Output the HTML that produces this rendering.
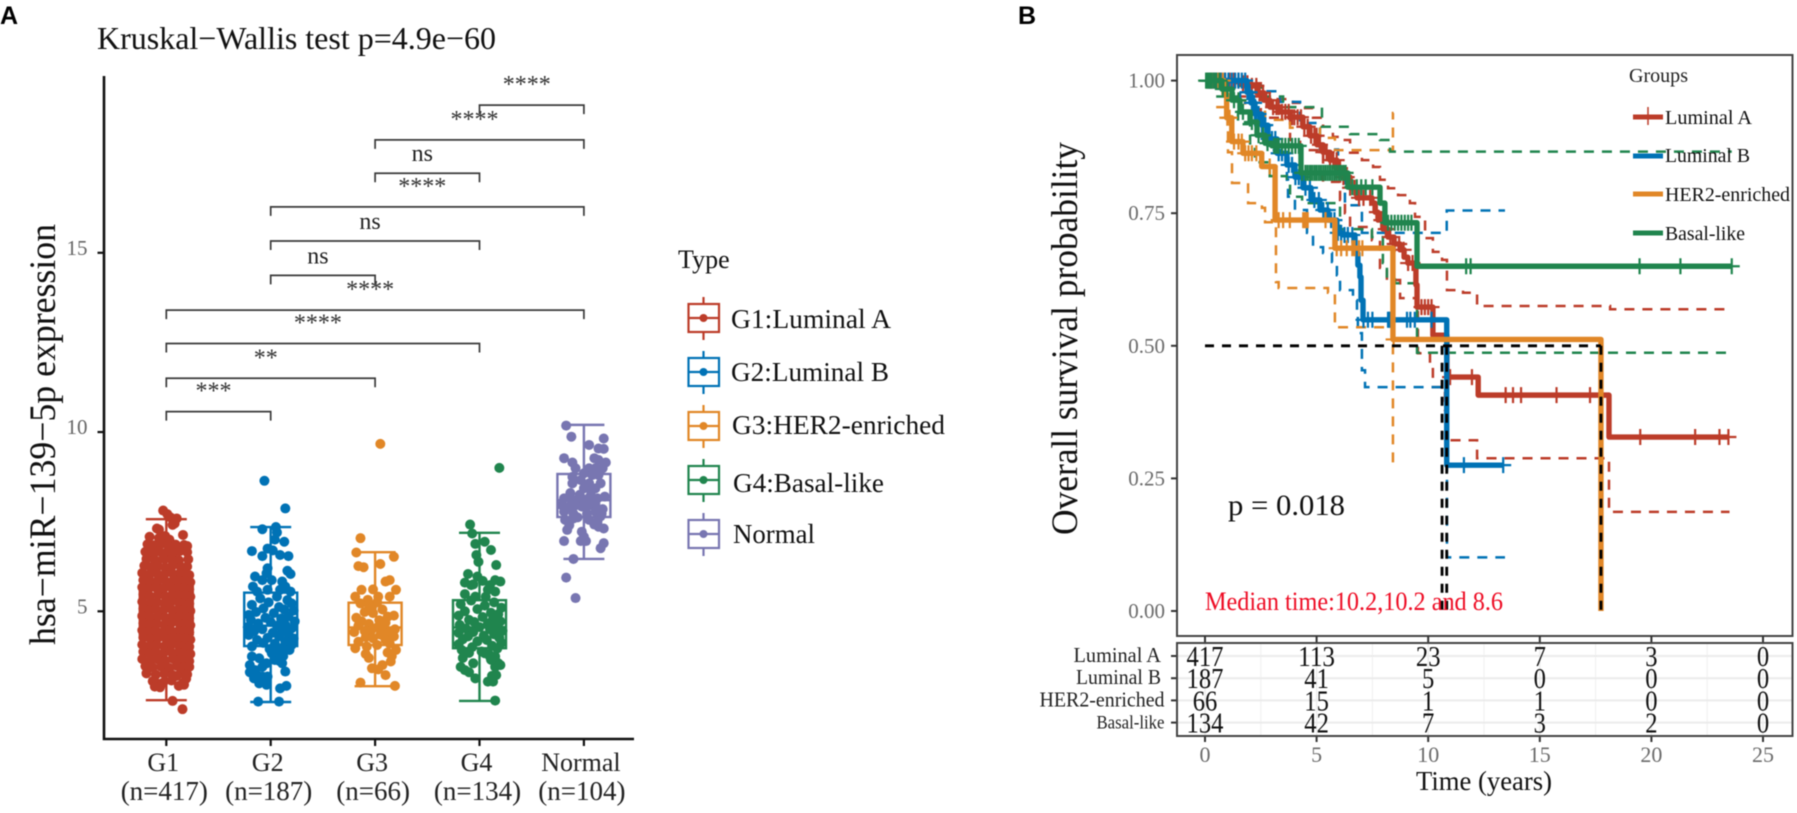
<!DOCTYPE html>
<html lang="en">
<head>
<meta charset="utf-8">
<title>miR-139-5p expression and overall survival</title>
<style>
html,body{margin:0;padding:0;background:#fff;}
svg{display:block;font-family:"Liberation Serif",serif;filter:blur(0.4px);}
</style>
</head>
<body>
<svg id="fig" xmlns="http://www.w3.org/2000/svg" width="1797" height="813" viewBox="0 0 1797 813">
<rect width="1797" height="813" fill="#fff"/>

<text x="0" y="24" font-family="'Liberation Sans',sans-serif" font-weight="700" font-size="25" fill="#000">A</text>
<text x="1018" y="24" font-family="'Liberation Sans',sans-serif" font-weight="700" font-size="25" fill="#000">B</text>

<text x="97" y="49" font-size="32" textLength="399" lengthAdjust="spacingAndGlyphs" fill="#111">Kruskal−Wallis test p=4.9e−60</text>
<text transform="translate(55,645) rotate(-90)" font-size="37" textLength="421" lengthAdjust="spacingAndGlyphs" fill="#111">hsa−miR−139−5p expression</text>

<g id="a-marks"></g>

<g>
<text x="678" y="268" font-size="26" fill="#111">Type</text>
<g fill="none" stroke="#BC3C29" stroke-width="2.2">
<path d="M703.5 297V304M703.5 332V340M688 318H719"/><rect x="688.5" y="304" width="30.5" height="28"/><circle cx="703.5" cy="318" r="4" fill="#BC3C29" stroke="none"/></g>
<text x="731" y="328" font-size="27" textLength="160" lengthAdjust="spacingAndGlyphs" fill="#111">G1:Luminal A</text>
<g fill="none" stroke="#0072B5" stroke-width="2.2">
<path d="M703.5 351V358M703.5 386V394M688 372H719"/><rect x="688.5" y="358" width="30.5" height="28"/><circle cx="703.5" cy="372" r="4" fill="#0072B5" stroke="none"/></g>
<text x="731" y="381" font-size="27" textLength="158" lengthAdjust="spacingAndGlyphs" fill="#111">G2:Luminal B</text>
<g fill="none" stroke="#E18727" stroke-width="2.2">
<path d="M703.5 405V412M703.5 440V448M688 426H719"/><rect x="688.5" y="412" width="30.5" height="28"/><circle cx="703.5" cy="426" r="4" fill="#E18727" stroke="none"/></g>
<text x="732" y="434" font-size="27" textLength="213" lengthAdjust="spacingAndGlyphs" fill="#111">G3:HER2-enriched</text>
<g fill="none" stroke="#20854E" stroke-width="2.2">
<path d="M703.5 459V466M703.5 494V502M688 480H719"/><rect x="688.5" y="466" width="30.5" height="28"/><circle cx="703.5" cy="480" r="4" fill="#20854E" stroke="none"/></g>
<text x="733" y="492" font-size="27" textLength="151" lengthAdjust="spacingAndGlyphs" fill="#111">G4:Basal-like</text>
<g fill="none" stroke="#7876B1" stroke-width="2.2">
<path d="M703.5 513V520M703.5 548V556M688 534H719"/><rect x="688.5" y="520" width="30.5" height="28"/><circle cx="703.5" cy="534" r="4" fill="#7876B1" stroke="none"/></g>
<text x="733" y="543" font-size="27" textLength="82" lengthAdjust="spacingAndGlyphs" fill="#111">Normal</text>
</g>

<rect x="1177" y="55" width="615.5" height="581" fill="#fff" stroke="#444" stroke-width="2"/>
<g id="b-marks"></g>
<text transform="translate(1077,535) rotate(-90)" font-size="37" textLength="393" lengthAdjust="spacingAndGlyphs" fill="#111">Overall survival probability</text>
<text x="1228" y="515" font-size="30" textLength="117" lengthAdjust="spacingAndGlyphs" fill="#111">p = 0.018</text>
<text x="1205" y="610" font-size="26" textLength="298" lengthAdjust="spacingAndGlyphs" fill="#ee0c24">Median time:10.2,10.2 and 8.6</text>

<g>
<text x="1629" y="82" font-size="20" textLength="59" lengthAdjust="spacingAndGlyphs" fill="#222">Groups</text>
<path d="M1633 117H1663M1648 107V125" stroke="#BC3C29" stroke-width="1.5" fill="none"/>
<path d="M1633 117H1663" stroke="#BC3C29" stroke-width="5" fill="none"/>
<text x="1665" y="124" font-size="20" textLength="87" lengthAdjust="spacingAndGlyphs" fill="#111">Luminal A</text>
<path d="M1633 156H1663" stroke="#0072B5" stroke-width="5" fill="none"/>
<text x="1665" y="162" font-size="20" textLength="85" lengthAdjust="spacingAndGlyphs" fill="#111">Luminal B</text>
<path d="M1633 194H1663" stroke="#E18727" stroke-width="5" fill="none"/>
<text x="1665" y="201" font-size="20" textLength="125" lengthAdjust="spacingAndGlyphs" fill="#111">HER2-enriched</text>
<path d="M1633 233H1663" stroke="#20854E" stroke-width="5" fill="none"/>
<text x="1665" y="240" font-size="20" textLength="80" lengthAdjust="spacingAndGlyphs" fill="#111">Basal-like</text>
</g>

<rect x="1177" y="643" width="615.5" height="93" fill="#fff" stroke="none"/>
<g id="table-marks"></g>
<rect x="1177" y="643" width="615.5" height="93" fill="none" stroke="#444" stroke-width="2"/>
<text x="1416" y="790" font-size="27" textLength="136" lengthAdjust="spacingAndGlyphs" fill="#111">Time (years)</text>
</svg>

<script>
/* ---------- Panel A data ---------- */
const groupNames = ['G1','G2','G3','G4','Normal'];
const groupCounts = ['(n=417)','(n=187)','(n=66)','(n=134)','(n=104)'];
const groupColors = ['#BC3C29','#0072B5','#E18727','#20854E','#7876B1'];
const exprTicks = [5,10,15];
const boxQ1 = [4.36,4.03,4.06,3.97,7.63];
const boxMedian = [5.0,4.6,4.55,4.55,8.1];
const boxQ3 = [5.73,5.52,5.24,5.31,8.83];
const whiskerLow = [2.52,2.47,2.91,2.5,6.46];
const whiskerHigh = [7.57,7.35,6.65,7.19,10.2];

const g1Values = [7.81,7.71,7.62,7.59,7.41,7.45,7.31,7.28,7.13,7.08,7.04,7.1,7.0,
6.87,6.84,6.88,6.83,6.86,6.85,6.82,
6.66,6.63,6.67,6.64,6.62,6.68,6.65,
6.46,6.43,6.47,6.44,6.42,6.45,
6.27,6.23,6.26,6.22,6.28,6.24,6.25,
6.07,6.03,6.06,6.02,6.08,6.04,6.05,6.01,
5.87,5.83,5.86,5.82,5.88,5.84,5.85,5.81,
5.67,5.63,5.66,5.62,5.68,5.64,5.65,5.61,
5.47,5.43,5.46,5.42,5.48,5.44,5.45,5.41,
5.27,5.23,5.26,5.22,5.28,5.24,5.25,5.21,
5.07,5.03,5.06,5.02,5.08,5.04,5.05,5.01,
4.87,4.83,4.86,4.82,4.88,4.84,4.85,4.81,
4.67,4.63,4.66,4.62,4.68,4.64,4.65,4.61,
4.47,4.43,4.46,4.42,4.48,4.44,4.45,4.41,
4.27,4.23,4.26,4.22,4.28,4.24,4.25,4.21,
4.07,4.03,4.06,4.02,4.08,4.04,4.05,4.01,
3.87,3.83,3.86,3.82,3.88,3.84,3.85,3.81,
3.67,3.63,3.66,3.62,3.68,3.64,3.65,3.61,
3.47,3.43,3.46,3.42,3.48,3.44,3.45,
3.27,3.23,3.26,3.22,3.28,3.24,
3.05,2.98,3.01,3.07,3.2,2.95,3.12,
2.9,2.88,2.92,3.0,
2.5,2.27];
const g1Jitter = [-.03,.01,.04,.1,.06,.08,-.09,-.07,.16,-.16,-.07,-.01,.03,
-.18,-.12,-.05,.02,.09,.17,.2,
-.2,-.14,-.07,0,.07,.13,.2,
-.19,-.11,-.03,.05,.12,.21,
-.21,-.15,-.08,-.01,.06,.14,.2,
-.23,-.16,-.09,-.02,.05,.12,.19,.22,
-.22,-.15,-.08,0,.07,.13,.18,.23,
-.23,-.17,-.1,-.03,.04,.11,.17,.22,
-.22,-.16,-.08,-.01,.06,.12,.19,.23,
-.23,-.15,-.09,-.02,.05,.12,.18,.22,
-.22,-.16,-.1,-.03,.04,.11,.17,.23,
-.23,-.15,-.08,-.01,.06,.12,.19,.22,
-.22,-.16,-.09,-.02,.05,.13,.18,.23,
-.23,-.17,-.1,-.03,.04,.11,.17,.22,
-.22,-.15,-.08,0,.07,.12,.19,.23,
-.23,-.16,-.09,-.02,.05,.12,.18,.22,
-.22,-.16,-.1,-.03,.04,.11,.17,.23,
-.23,-.15,-.08,-.01,.06,.13,.18,.22,
-.2,-.13,-.05,.03,.1,.17,.22,
-.19,-.1,-.02,.06,.14,.2,
-.13,-.08,-.03,.05,.1,.17,.19,
-.11,-.06,.12,.16,
.06,.155];

const g2Values = [8.64,7.87,7.29,7.35,7.2,6.94,7.0,6.68,6.54,6.75,6.7,6.57,6.54,6.2,6.06,6.13,6.04,5.97,5.69,5.87,5.87,5.83,5.69,5.6,5.55,5.6,5.41,5.55,
5.36,5.31,5.25,5.22,5.18,5.12,5.08,5.05,5.02,4.98,4.95,4.9,4.86,4.82,4.8,4.76,4.72,4.7,4.66,4.62,4.6,4.56,4.52,4.5,4.46,4.44,4.4,4.36,4.34,4.3,4.26,4.24,4.2,4.16,4.12,4.1,4.06,4.02,3.98,3.95,3.92,3.88,
3.5,3.36,3.13,2.99,2.95,3.22,3.18,3.18,3.32,3.55,3.64,3.55,3.69,3.74,3.83,2.85,2.92,2.48,2.48,3.45,3.3,3.62,3.75];
const g2Jitter = [-.06,.14,-.08,.05,.06,.13,.04,-.18,-.08,-.03,.02,.09,.17,-.03,-.04,.16,.19,-.15,-.17,-.08,.01,.11,.14,.09,-.13,-.03,.06,.19,
-.1,.16,-.02,.2,-.18,.08,-.07,.13,.22,-.14,.03,-.21,.17,-.05,.1,-.19,.23,0,-.12,.14,.06,-.22,.2,-.08,.11,-.16,.02,.17,-.21,.08,-.03,.22,-.13,.14,-.07,.04,.2,-.18,.11,-.01,.18,.06,
-.2,-.15,-.16,-.11,-.04,-.13,-.08,-.03,.14,.11,.04,-.04,-.11,-.18,.01,.09,.15,-.12,.08,-.08,-.2,.08,.12];

const g3Values = [9.67,7.04,6.64,6.52,6.32,6.26,6.23,5.87,5.83,5.6,5.6,5.61,5.41,5.32,5.41,5.41,5.22,5.25,5.18,5.05,4.98,4.95,4.88,4.82,4.75,4.72,4.68,4.65,4.6,4.55,4.5,4.52,4.46,4.42,4.4,4.35,4.3,4.28,4.25,4.2,4.15,4.1,4.06,4.02,3.97,3.92,3.85,3.81,3.6,3.5,3.41,3.38,3.22,3.01,2.92,3.75,3.7,4.85,4.45,5.1];
const g3Jitter = [.05,-.14,-.18,.18,.05,-.16,-.11,.14,.1,.2,-.13,-.02,-.19,-.07,.03,.14,-.14,.02,-.06,.07,-.1,-.02,.18,-.18,.04,-.13,.1,-.06,-.16,.02,.19,.08,-.04,-.2,.13,.05,.18,-.09,-.02,.1,-.16,.14,.02,-.08,-.19,.2,.12,-.09,.15,.07,-.03,.03,.1,-.14,.19,.16,-.06,.12,-.1,-.03];

const g4Values = [9.0,7.42,7.17,6.88,6.94,6.71,6.57,6.38,6.29,6.04,5.97,5.8,5.73,5.85,5.83,5.87,5.73,5.55,5.48,5.41,5.41,5.75,5.6,
5.3,5.25,5.2,5.16,5.1,5.06,5.0,4.96,4.92,4.88,4.84,4.8,4.76,4.72,4.7,4.66,4.62,4.58,4.56,4.52,4.5,4.46,4.42,4.4,4.36,4.32,4.3,4.26,4.22,4.2,4.16,4.12,4.08,4.04,4.0,3.96,3.92,3.88,3.84,3.8,
3.36,3.13,3.04,3.04,3.22,3.45,3.55,3.74,3.74,3.83,3.55,3.45,3.3,3.65,2.51,3.7,3.5,3.2];
const g4Jitter = [.19,-.09,-.07,-.04,.05,.11,-.03,-.01,.16,-.11,-.02,-.14,-.08,.03,.2,.15,.1,.15,-.14,-.04,.06,-.06,.08,
-.08,.14,-.18,.05,.21,-.02,-.14,.11,.18,-.2,.03,.13,-.1,.2,-.05,.08,-.19,.16,0,-.13,.1,.22,-.06,-.2,.14,.04,-.11,.19,-.16,.07,-.02,.21,-.2,.12,-.07,.17,-.17,.02,-.1,.09,
-.14,-.04,.08,.13,.16,.15,.18,.1,.15,.05,-.06,-.18,-.1,.11,.15,-.16,.2,.12];

const g5Values = [10.18,9.87,9.82,9.64,9.54,9.53,9.27,9.15,9.27,9.15,9.22,8.99,8.99,8.99,8.99,8.85,8.75,8.8,8.8,8.66,8.57,8.57,8.57,8.43,8.43,8.3,8.25,8.35,
8.15,8.15,8.12,8.12,8.2,8.15,8.2,7.96,7.92,7.96,7.92,7.96,8.0,7.85,7.78,7.72,7.72,7.78,7.65,7.72,
7.55,7.59,7.55,7.5,7.27,7.36,7.31,7.22,7.08,6.96,6.96,6.96,6.9,6.76,6.46,5.94,5.37,7.42,7.4,7.62];
const g5Jitter = [-.17,-.12,.19,.05,.14,.19,-.19,-.11,.1,.21,.14,-.08,.05,.11,.18,0,-.11,.08,.14,-.03,-.11,.05,.16,0,.11,-.13,-.04,.07,
-.19,-.13,-.06,0,.06,.13,.2,-.21,-.14,-.08,-.02,.05,.11,.18,-.19,-.1,.03,.11,.16,.17,
-.18,-.1,.05,.13,-.16,.14,.19,-.02,0,-.19,-.03,.02,.19,.16,-.1,-.17,-.08,.1,-.14,-.06];

const allValues = [g1Values,g2Values,g3Values,g4Values,g5Values];
const allJitter = [g1Jitter,g2Jitter,g3Jitter,g4Jitter,g5Jitter];

/* comparison brackets: start group, end group, level on the value axis, label */
const bracketFrom = [0,0,0,0,1,1,1,2,2,3];
const bracketTo = [1,2,3,4,2,3,4,3,4,4];
const bracketLevel = [10.57,11.5,12.47,13.4,14.37,15.33,16.28,17.22,18.15,19.12];
const bracketLabels = ['***','**','****','****','ns','ns','****','ns','****','****'];

/* ---------- Panel B data ---------- */
const survTicks = [1,0.75,0.5,0.25,0];
const survTickLabels = ['1.00','0.75','0.50','0.25','0.00'];
const timeTicks = [0,5,10,15,20,25];
const strataNames = ['Luminal A','Luminal B','HER2-enriched','Basal-like'];
const strataColors = ['#BC3C29','#0072B5','#E18727','#20854E'];

const lumATime = [0,1.57,1.93,2.33,2.64,2.91,3.36,3.81,4.39,4.7,5.02,5.29,5.6,5.91,6.18,6.5,6.81,7.48,7.62,7.75,7.97,8.2,8.47,8.74,8.92,9.09,9.41,9.45,9.5,10.21,10.84,12.24,18.1,23.5];
const lumASurv = [1,.995,.99,.977,.963,.95,.941,.931,.913,.896,.879,.865,.85,.835,.818,.798,.779,.769,.752,.737,.72,.705,.692,.681,.667,.656,.652,.615,.573,.52,.441,.407,.328,.328];
const lumAUpperTime = [0,1.5,2.5,3.14,3.94,4.48,4.84,5.29,5.73,6.18,6.5,7.03,7.53,7.84,8.2,8.65,9.18,9.41,9.86,10.21,10.62,10.84,11.56,12.19,18.15,23.5];
const lumAUpperSurv = [1,.995,.98,.965,.958,.948,.93,.913,.894,.888,.864,.85,.837,.813,.797,.784,.769,.743,.703,.677,.662,.605,.6,.575,.569,.569];
const lumALowerTime = [.5,1.5,2.5,3.81,4.26,5.29,6.05,6.27,6.5,7.48,7.84,8.15,8.74,9.54,10.08,10.21,10.75,10.84,12.19,18.1,23.5];
const lumALowerSurv = [1,.97,.93,.888,.869,.809,.775,.75,.724,.699,.647,.624,.59,.486,.46,.422,.379,.322,.288,.187,.187];
const lumACensor = [.1,.2,.3,.4,.5,.7,.9,1.1,1.3,1.5,1.7,1.9,2.1,2.3,2.45,2.6,2.75,2.9,3.05,3.2,3.3,3.45,3.6,3.75,3.9,4.0,4.15,4.3,4.45,4.6,4.75,4.9,5.0,5.15,5.3,5.45,5.6,5.75,5.9,6.05,6.2,6.35,6.5,6.7,6.9,7.1,7.4,7.7,7.9,8.1,8.3,8.5,8.7,8.9,9.1,9.3,9.7,9.85,10.0,10.15,10.98,11.96,13.47,13.8,14.16,15.75,17.25,19.5,21.96,23.05,23.45];

const lumBTime = [0,1.88,2.06,2.24,2.55,2.82,3.23,3.67,4.03,4.39,4.75,5.15,5.51,5.91,6.14,6.72,6.85,6.94,6.99,7.08,10.83,13.4];
const lumBSurv = [1,.978,.958,.937,.916,.89,.863,.841,.818,.798,.775,.756,.737,.713,.709,.675,.652,.63,.586,.549,.275,.275];
const lumBUpperTime = [0,2.02,2.69,3.36,4.26,5.15,5.96,6.27,7.03,10.83,13.44];
const lumBUpperSurv = [1,.99,.98,.96,.92,.87,.82,.765,.713,.755,.755];
const lumBLowerTime = [.5,1.57,2.24,2.91,3.67,3.72,4.03,4.57,4.84,5.29,5.69,5.91,6.05,6.63,6.81,6.85,7.03,7.17,10.84,13.44];
const lumBLowerSurv = [1,.963,.916,.869,.813,.781,.756,.713,.686,.675,.658,.633,.605,.586,.567,.524,.454,.422,.101,.101];
const lumBCensor = [.2,.3,.4,.5,.6,.75,.9,1.05,1.2,1.35,1.5,1.65,1.8,1.9,2.0,2.1,2.2,2.3,2.4,2.55,2.7,2.85,3.0,3.15,3.3,3.45,3.6,3.75,3.9,4.05,4.2,4.35,4.5,4.7,4.9,5.1,5.3,5.5,5.65,5.8,5.95,6.1,6.25,6.4,6.6,7.1,7.3,7.5,8.2,8.25,8.3,8.35,8.4,9.05,9.2,9.4,10.15,11.6,13.36];

const her2Time = [0,.85,.97,1.2,1.7,2.54,3.14,5.82,8.42,17.74];
const her2Surv = [1,.975,.93,.885,.863,.838,.737,.684,.512,0];
const her2UpperTime = [0,.76,1.03,1.79,2.69,3.81,5.15,5.82,8.42,8.45];
const her2UpperSurv = [1,1,.963,.941,.926,.911,.892,.869,.939,.939];
const her2LowerTime = [.5,1.03,1.21,1.93,2.55,2.69,3.18,3.3,5.51,5.82,8.42,8.5];
const her2LowerSurv = [.95,.865,.807,.769,.76,.733,.62,.609,.6,.535,.279,.279];
const her2Censor = [.3,.6,.8,1.0,1.1,1.3,1.5,1.65,1.8,1.95,2.1,2.3,2.9,3.3,3.5,3.8,4.4,4.45,4.5,4.55,4.6,5.4,5.9,6.1,6.35,6.6,6.7,6.9,7.05,8.45];

const basalTime = [0,.76,1.21,1.57,2.02,2.33,2.69,3.0,4.3,6.4,7.84,8.06,9.5,23.6];
const basalSurv = [1,.984,.963,.941,.922,.897,.882,.877,.826,.799,.769,.732,.65,.65];
const basalUpperTime = [0,1.5,2.5,3.5,5.24,6.5,7.84,8.29,23.6];
const basalUpperSurv = [1,.99,.97,.95,.913,.899,.888,.866,.866];
const basalLowerTime = [.5,1.48,2.02,2.24,2.9,3.67,3.81,4.35,6.05,7.48,7.97,8.15,8.51,9.5,23.6];
const basalLowerSurv = [.97,.918,.871,.846,.82,.813,.781,.769,.72,.705,.656,.625,.618,.487,.487];
const basalCensor = [.05,.1,.15,.2,.25,.3,.4,.5,.65,.8,1.0,1.3,1.5,1.7,2.1,2.4,2.6,2.8,3.1,3.2,3.3,3.45,3.6,3.75,3.9,4.05,4.2,4.35,4.5,4.6,4.7,4.8,4.9,5.0,5.1,5.2,5.3,5.4,5.5,5.6,5.7,5.8,5.9,6.0,6.1,6.2,6.3,6.6,6.8,7.0,7.2,7.5,8.2,8.35,8.5,8.65,8.8,8.95,9.1,9.25,11.7,11.9,19.47,21.3,23.6];

const curveTimes = [lumATime,lumBTime,her2Time,basalTime];
const curveSurv = [lumASurv,lumBSurv,her2Surv,basalSurv];
const upperTimes = [lumAUpperTime,lumBUpperTime,her2UpperTime,basalUpperTime];
const upperSurv = [lumAUpperSurv,lumBUpperSurv,her2UpperSurv,basalUpperSurv];
const lowerTimes = [lumALowerTime,lumBLowerTime,her2LowerTime,basalLowerTime];
const lowerSurv = [lumALowerSurv,lumBLowerSurv,her2LowerSurv,basalLowerSurv];
const censorTimes = [lumACensor,lumBCensor,her2Censor,basalCensor];
const medianTimes = [10.62,10.83,17.74];
const medianLevel = 0.5;

const riskLumA = [417,113,23,7,3,0];
const riskLumB = [187,41,5,0,0,0];
const riskHer2 = [66,15,1,1,0,0];
const riskBasal = [134,42,7,3,2,0];
const riskRows = [riskLumA,riskLumB,riskHer2,riskBasal];

/* ---------- helpers and axis functions ---------- */
const NS = 'http://www.w3.org/2000/svg';
function mk(tag, attrs, parent, text) {
  const el = document.createElementNS(NS, tag);
  for (const k in attrs) el.setAttribute(k, attrs[k]);
  if (text !== undefined) el.textContent = text;
  parent.appendChild(el);
  return el;
}
const catX = i => 166.3 + i * 104.4;
const exprY = v => 611.3 - (v - 5) * 35.85;
const timeX = t => 1205 + t * 22.32;
const survY = s => 611 - s * 530.4;
const bracketDrop = 9;

/* ---------- Panel A ---------- */
const A = document.getElementById('a-marks');

let el = mk('path', {d:'M104 76V739H634', fill:'none', stroke:'#111', 'stroke-width':2.6}, A);



exprTicks.forEach(v => {
  const tick = mk('path', {d:'M97.5 '+exprY(v)+'H104', stroke:'#111', 'stroke-width':2.2}, A);
  
  
  const lab = mk('text', {x:87.5, y:exprY(v)+2, 'text-anchor':'end', 'font-size':21, fill:'#666'}, A, String(v));
  
  
});

groupNames.forEach((name, i) => {
  const x = catX(i);
  const tick = mk('path', {d:'M'+x+' 739V746', stroke:'#111', 'stroke-width':2.2}, A);
  
  
  const lab = mk('text', {x:x-3, y:771, 'text-anchor':'middle', 'font-size':26, fill:'#222'}, A, name);
  
  
  const cnt = mk('text', {x:x-2, y:800, 'text-anchor':'middle', 'font-size':27, fill:'#222'}, A, groupCounts[i]);
  
  

  const col = groupColors[i];
  const box = mk('g', {fill:'none', stroke:col, 'stroke-width':2.4}, A);
  
  
  mk('rect', {x:x-26.5, y:exprY(boxQ3[i]), width:53, height:exprY(boxQ1[i])-exprY(boxQ3[i])}, box);
  mk('path', {d:'M'+(x-26.5)+' '+exprY(boxMedian[i])+'h53'}, box);
  mk('path', {d:'M'+x+' '+exprY(boxQ3[i])+'V'+exprY(whiskerHigh[i])+'M'+(x-20.5)+' '+exprY(whiskerHigh[i])+'h41'}, box);
  mk('path', {d:'M'+x+' '+exprY(boxQ1[i])+'V'+exprY(whiskerLow[i])+'M'+(x-20.5)+' '+exprY(whiskerLow[i])+'h41'}, box);

  allValues[i].forEach((v, k) => {
    const dot = mk('circle', {cx:x + allJitter[i][k]*104.4, cy:exprY(v), r:5, fill:col}, A);
    
    
  });
});

bracketFrom.forEach((from, i) => {
  const x1 = catX(from), x2 = catX(bracketTo[i]), y = exprY(bracketLevel[i]);
  const br = mk('path', {d:'M'+x1+' '+(y+bracketDrop)+'V'+y+'H'+x2+'V'+(y+bracketDrop), fill:'none', stroke:'#3a3a3a', 'stroke-width':1.7}, A);
  
  
  const lbl = bracketLabels[i];
  const tx = (x1 + x2) / 2 - 5;
  const isNs = lbl === 'ns';
  const ty = isNs ? y - 12 : y - 13;
  const t = mk('text', {x:tx, y:ty, 'text-anchor':'middle', 'font-size':24, fill:isNs ? '#222' : '#333'}, A, lbl);
  
  
});

/* ---------- Panel B ---------- */
const B = document.getElementById('b-marks');

function stepPath(ts, ss) {
  let d = 'M' + timeX(ts[0]) + ' ' + survY(ss[0]);
  for (let i = 1; i < ts.length; i++) {
    d += 'H' + timeX(ts[i]) + 'V' + survY(ss[i]);
  }
  return d;
}
function survAt(ts, ss, t) {
  let s = ss[0];
  for (let i = 0; i < ts.length; i++) {
    if (ts[i] <= t) s = ss[i]; else break;
  }
  return s;
}

survTicks.forEach((s, i) => {
  const tick = mk('path', {d:'M1171 '+survY(s)+'H1177', stroke:'#333', 'stroke-width':2}, B);
  
  
  const lab = mk('text', {x:1165, y:survY(s)+7, 'text-anchor':'end', 'font-size':21, fill:'#6b6b6b'}, B, survTickLabels[i]);
  
  
});

strataNames.forEach((name, i) => {
  const key = name.toLowerCase();
  const up = mk('path', {d:stepPath(upperTimes[i], upperSurv[i]), fill:'none', stroke:strataColors[i], 'stroke-width':2.5, 'stroke-dasharray':'10 8'}, B);
  
  
  const lo = mk('path', {d:stepPath(lowerTimes[i], lowerSurv[i]), fill:'none', stroke:strataColors[i], 'stroke-width':2.5, 'stroke-dasharray':'10 8'}, B);
  
  
});

strataNames.forEach((name, i) => {
  const key = name.toLowerCase();
  const line = mk('path', {d:stepPath(curveTimes[i], curveSurv[i]), fill:'none', stroke:strataColors[i], 'stroke-width':5.4, 'stroke-linejoin':'round'}, B);
  
  
  censorTimes[i].forEach(t => {
    const x = timeX(t), y = survY(survAt(curveTimes[i], curveSurv[i], t));
    const c = mk('path', {d:'M'+x+' '+(y-8)+'v16M'+(x-8)+' '+y+'h16', fill:'none', stroke:strataColors[i], 'stroke-width':2.2}, B);
    
    
  });
});

const medLine = mk('path', {d:'M'+timeX(0)+' '+survY(medianLevel)+'H'+timeX(medianTimes[2]), stroke:'#000', 'stroke-width':2.8, 'stroke-dasharray':'9 8', fill:'none'}, B);


medianTimes.forEach(t => {
  const v = mk('path', {d:'M'+timeX(t)+' '+survY(medianLevel)+'V'+survY(0), stroke:'#000', 'stroke-width':2.8, 'stroke-dasharray':'9 8', fill:'none'}, B);
  
  
});

/* top ticks below the survival plot and x-axis labels */
const T = document.getElementById('table-marks');
timeTicks.forEach(t => {
  const x = timeX(t);
  const top = mk('path', {d:'M'+x+' 636V643', stroke:'#333', 'stroke-width':2}, T);
  
  
  const bot = mk('path', {d:'M'+x+' 736V742', stroke:'#333', 'stroke-width':2}, T);
  
  
  const lab = mk('text', {x:x, y:762, 'text-anchor':'middle', 'font-size':22, fill:'#6b6b6b'}, T, String(t));
  
  
  const grid = mk('path', {d:'M'+x+' 643V736', stroke:'#eeeeee', 'stroke-width':1.6}, T);
  
  
  if (t < 25) {
    const minor = mk('path', {d:'M'+timeX(t+2.5)+' 643V736', stroke:'#f2f2f2', 'stroke-width':1.2}, T);
    
    
  }
});

const rowY = r => 656 + r * 22.2;
const rowLabelWidths = [87.5, 85, 125, 68];
const rowLabelEnds = [1161, 1161, 1164.5, 1164.5];
riskRows.forEach((row, r) => {
  const y = rowY(r);
  const grid = mk('path', {d:'M1177 '+y+'H1792', stroke:'#ebebeb', 'stroke-width':2}, T);
  
  
  const tick = mk('path', {d:'M1171 '+y+'H1177', stroke:'#333', 'stroke-width':2}, T);
  
  
  const lab = mk('text', {x:rowLabelEnds[r]-rowLabelWidths[r], y:y+6, 'font-size':r===3?19:21, textLength:rowLabelWidths[r], lengthAdjust:'spacingAndGlyphs', fill:'#222'}, T, strataNames[r]);
  
  
  row.forEach((n, c) => {
    const str = String(n);
    const cell = mk('text', {x:timeX(timeTicks[c]) - str.length*6.15, y:y+10, 'font-size':29, textLength:str.length*12.3, lengthAdjust:'spacingAndGlyphs', fill:'#111'}, T, str);
    
    
  });
});
</script>
</body>
</html>
